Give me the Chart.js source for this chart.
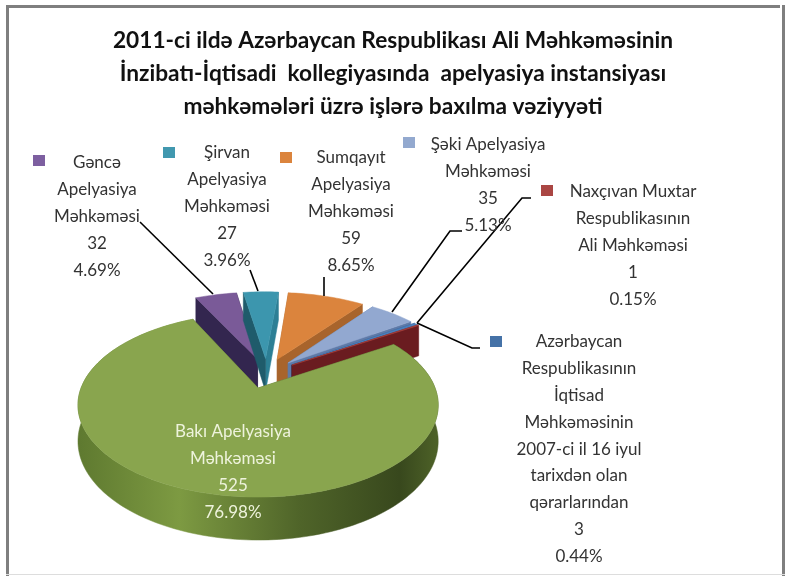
<!DOCTYPE html>
<html>
<head>
<meta charset="utf-8">
<style>
  html, body { margin: 0; padding: 0; background: #fff; }
  #wrap { position: absolute; left: 0; top: 0; width: 786px; height: 576px; }
</style>
<script src="https://cdn.jsdelivr.net/npm/chart.js@4/dist/chart.umd.min.js"></script>
</head>
<body>
<div id="wrap"><canvas id="c" width="786" height="576"></canvas></div>
<script>
const FONT = 'Lato, "Noto Sans", sans-serif';

const titleLines = [
  '2011-ci ildə Azərbaycan Respublikası Ali Məhkəməsinin',
  'İnzibatı-İqtisadi  kollegiyasında  apelyasiya instansiyası',
  'məhkəmələri üzrə işlərə baxılma vəziyyəti'
];
// slice order as in the original: clockwise from the Azərbaycan slice
const categories = [
  ['Azərbaycan', 'Respublikasının', 'İqtisad', 'Məhkəməsinin', '2007-ci il 16 iyul', 'tarixdən olan', 'qərarlarından'],
  ['Naxçıvan Muxtar', 'Respublikasının', 'Ali Məhkəməsi'],
  ['Bakı Apelyasiya', 'Məhkəməsi'],
  ['Gəncə', 'Apelyasiya', 'Məhkəməsi'],
  ['Şirvan', 'Apelyasiya', 'Məhkəməsi'],
  ['Sumqayıt', 'Apelyasiya', 'Məhkəməsi'],
  ['Şəki Apelyasiya', 'Məhkəməsi']
];
const values = [3, 1, 525, 32, 27, 59, 35];
const topColors = ['#4a7ebb', '#a8403c', '#89a54e', '#7a5a98', '#3c96ae', '#db843d', '#92a8d0'];
const wallColors = ['#2f5582', '#6a1c20', '#4d6128', '#33264f', '#1f5b6b', '#a8642c', '#5f7aa8'];
const endWallColors = ['#2f5582', '#6a1c20', '#4d6128', '#33264f', '#2d7f95', '#a8642c', '#5f7aa8'];
const keyColors = ['#4572a7', '#aa4643', null, '#7d5fa0', '#4198af', '#db843d', '#93a9cf'];
const BAKI = 2;

// label layout: centre x, first line y, line step, legend key x/y, leader polyline
const LABELS = [
  { cx: 579, y: 342, key: [490, 336], leader: [[480, 348], [472, 348], [417, 323]] },
  { cx: 633, y: 192, key: [541, 185], leader: [[531, 198], [522, 198], [417, 323]] },
  { cx: 233, y: 432, color: '#eef3dc' },
  { cx: 97, y: 163, key: [33, 155], leader: [[140, 222], [213, 294]] },
  { cx: 227, y: 153, key: [163, 147], leader: [[250, 270], [258, 291]] },
  { cx: 351, y: 158, key: [280, 152], leader: [[324, 277], [324, 296]] },
  { cx: 488, y: 145, key: [403, 137], leader: [[462, 231], [450, 231], [392, 312]] }
];
const LINE_STEP = 26.8;
const LABEL_FONT = '17px ' + FONT;

// perspective camera for the pie plane (model radius = 1)
const CAM = { cx: 258, cy: 388, ax: 177, ay: 88.9, k: 0.185, depth: 35, u0: 0.05, v0: 0.173 };

function project(u, v, z) {
  const s = 1 / (1 + CAM.k * v);
  return [CAM.cx + CAM.ax * u * s, CAM.cy - CAM.ay * v * s + z * CAM.depth * s];
}

// slice outline in model coords, taken from the arc element chart.js laid out
function sliceModel(arc) {
  const R = arc.outerRadius;
  const mid = (arc.startAngle + arc.endAngle) / 2;
  const e = (arc.options.offset || 0) / 4 / R;
  const ox = Math.cos(mid) * e + CAM.u0;
  const oy = -Math.sin(mid) * e + CAM.v0;
  const rim = [];
  const n = Math.max(2, Math.ceil((arc.endAngle - arc.startAngle) * 40));
  for (let i = 0; i <= n; i++) {
    const a = arc.startAngle + (arc.endAngle - arc.startAngle) * i / n;
    rim.push([ox + Math.cos(a), oy - Math.sin(a)]);
  }
  return { tip: [ox, oy], rim };
}

function fillPoly(ctx, pts, style) {
  ctx.beginPath();
  pts.forEach((p, i) => (i ? ctx.lineTo(p[0], p[1]) : ctx.moveTo(p[0], p[1])));
  ctx.closePath();
  ctx.fillStyle = style;
  ctx.fill();
  ctx.strokeStyle = style;
  ctx.lineWidth = 0.5;
  ctx.stroke();
}

function drawSlice(ctx, arc, i) {
  const m = sliceModel(arc);
  const wall = z => m.rim.map(p => project(p[0], p[1], z));
  const tip0 = project(m.tip[0], m.tip[1], 0);
  const tip1 = project(m.tip[0], m.tip[1], 1);
  const top = wall(0), bottom = wall(1);
  // side faces first, the top face goes over them
  fillPoly(ctx, [tip0, top[top.length - 1], bottom[bottom.length - 1], tip1], endWallColors[i]);
  fillPoly(ctx, [tip0, top[0], bottom[0], tip1], wallColors[i]);
  if (i === BAKI) {
    // only Bakı shows its rim, the other slices have it on the far side
    const g = ctx.createLinearGradient(80, 0, 435, 0);
    g.addColorStop(0, '#5f7a30');
    g.addColorStop(0.28, '#7d9a42');
    g.addColorStop(0.62, '#4f6429');
    g.addColorStop(0.9, '#38481d');
    g.addColorStop(1, '#4c6027');
    fillPoly(ctx, top.concat(bottom.slice().reverse()), g);
  }
  fillPoly(ctx, [tip0].concat(top), topColors[i]);
}

const pie3d = {
  id: 'pie3d',
  beforeDatasetsDraw(chart) {
    const ctx = chart.ctx;
    const arcs = chart.getDatasetMeta(0).data;
    ctx.save();
    // back to front, Bakı last since it sits in front of all the others
    [5, 3, 4, 6, 0, 1, 2].forEach(i => drawSlice(ctx, arcs[i], i));
    ctx.restore();
    return false;
  },
  afterDraw(chart) {
    const ctx = chart.ctx;
    const total = values.reduce((a, b) => a + b, 0);
    ctx.save();
    // frame
    ctx.fillStyle = '#7f7f7f';
    ctx.fillRect(6, 5, 774, 3);
    ctx.fillRect(6, 5, 3, 571);
    ctx.fillRect(782, 5, 3, 571);
    ctx.fillStyle = '#dddddd';
    ctx.fillRect(6, 574, 779, 1);
    // leaders
    ctx.strokeStyle = '#000';
    ctx.lineWidth = 1.6;
    LABELS.forEach(l => {
      if (!l.leader) return;
      ctx.beginPath();
      l.leader.forEach((p, i) => (i ? ctx.lineTo(p[0], p[1]) : ctx.moveTo(p[0], p[1])));
      ctx.stroke();
    });
    // labels
    ctx.font = LABEL_FONT;
    ctx.textAlign = 'center';
    ctx.textBaseline = 'middle';
    LABELS.forEach((l, i) => {
      const lines = categories[i].concat([String(values[i]), (values[i] / total * 100).toFixed(2) + '%']);
      ctx.fillStyle = l.color || '#333';
      lines.forEach((t, j) => ctx.fillText(t, l.cx, l.y + j * LINE_STEP));
      if (l.key) {
        ctx.fillStyle = keyColors[i];
        ctx.fillRect(l.key[0], l.key[1], 12, 11);
      }
    });
    ctx.restore();
  }
};

new Chart(document.getElementById('c').getContext('2d'), {
  type: 'pie',
  data: {
    labels: categories.map(c => c.join(' ')),
    datasets: [{ data: values, backgroundColor: topColors, borderWidth: 0, offset: 120 }]
  },
  options: {
    responsive: false,
    animation: false,
    rotation: 55.3,
    layout: { padding: 0 },
    plugins: {
      legend: { display: false },
      tooltip: { enabled: false },
      title: {
        display: true,
        text: titleLines,
        color: '#111',
        font: { family: FONT, size: 22.7, weight: 'bold', lineHeight: 1.45 },
        padding: { top: 24, bottom: 0 }
      }
    }
  },
  plugins: [pie3d]
});
</script>
</body>
</html>
